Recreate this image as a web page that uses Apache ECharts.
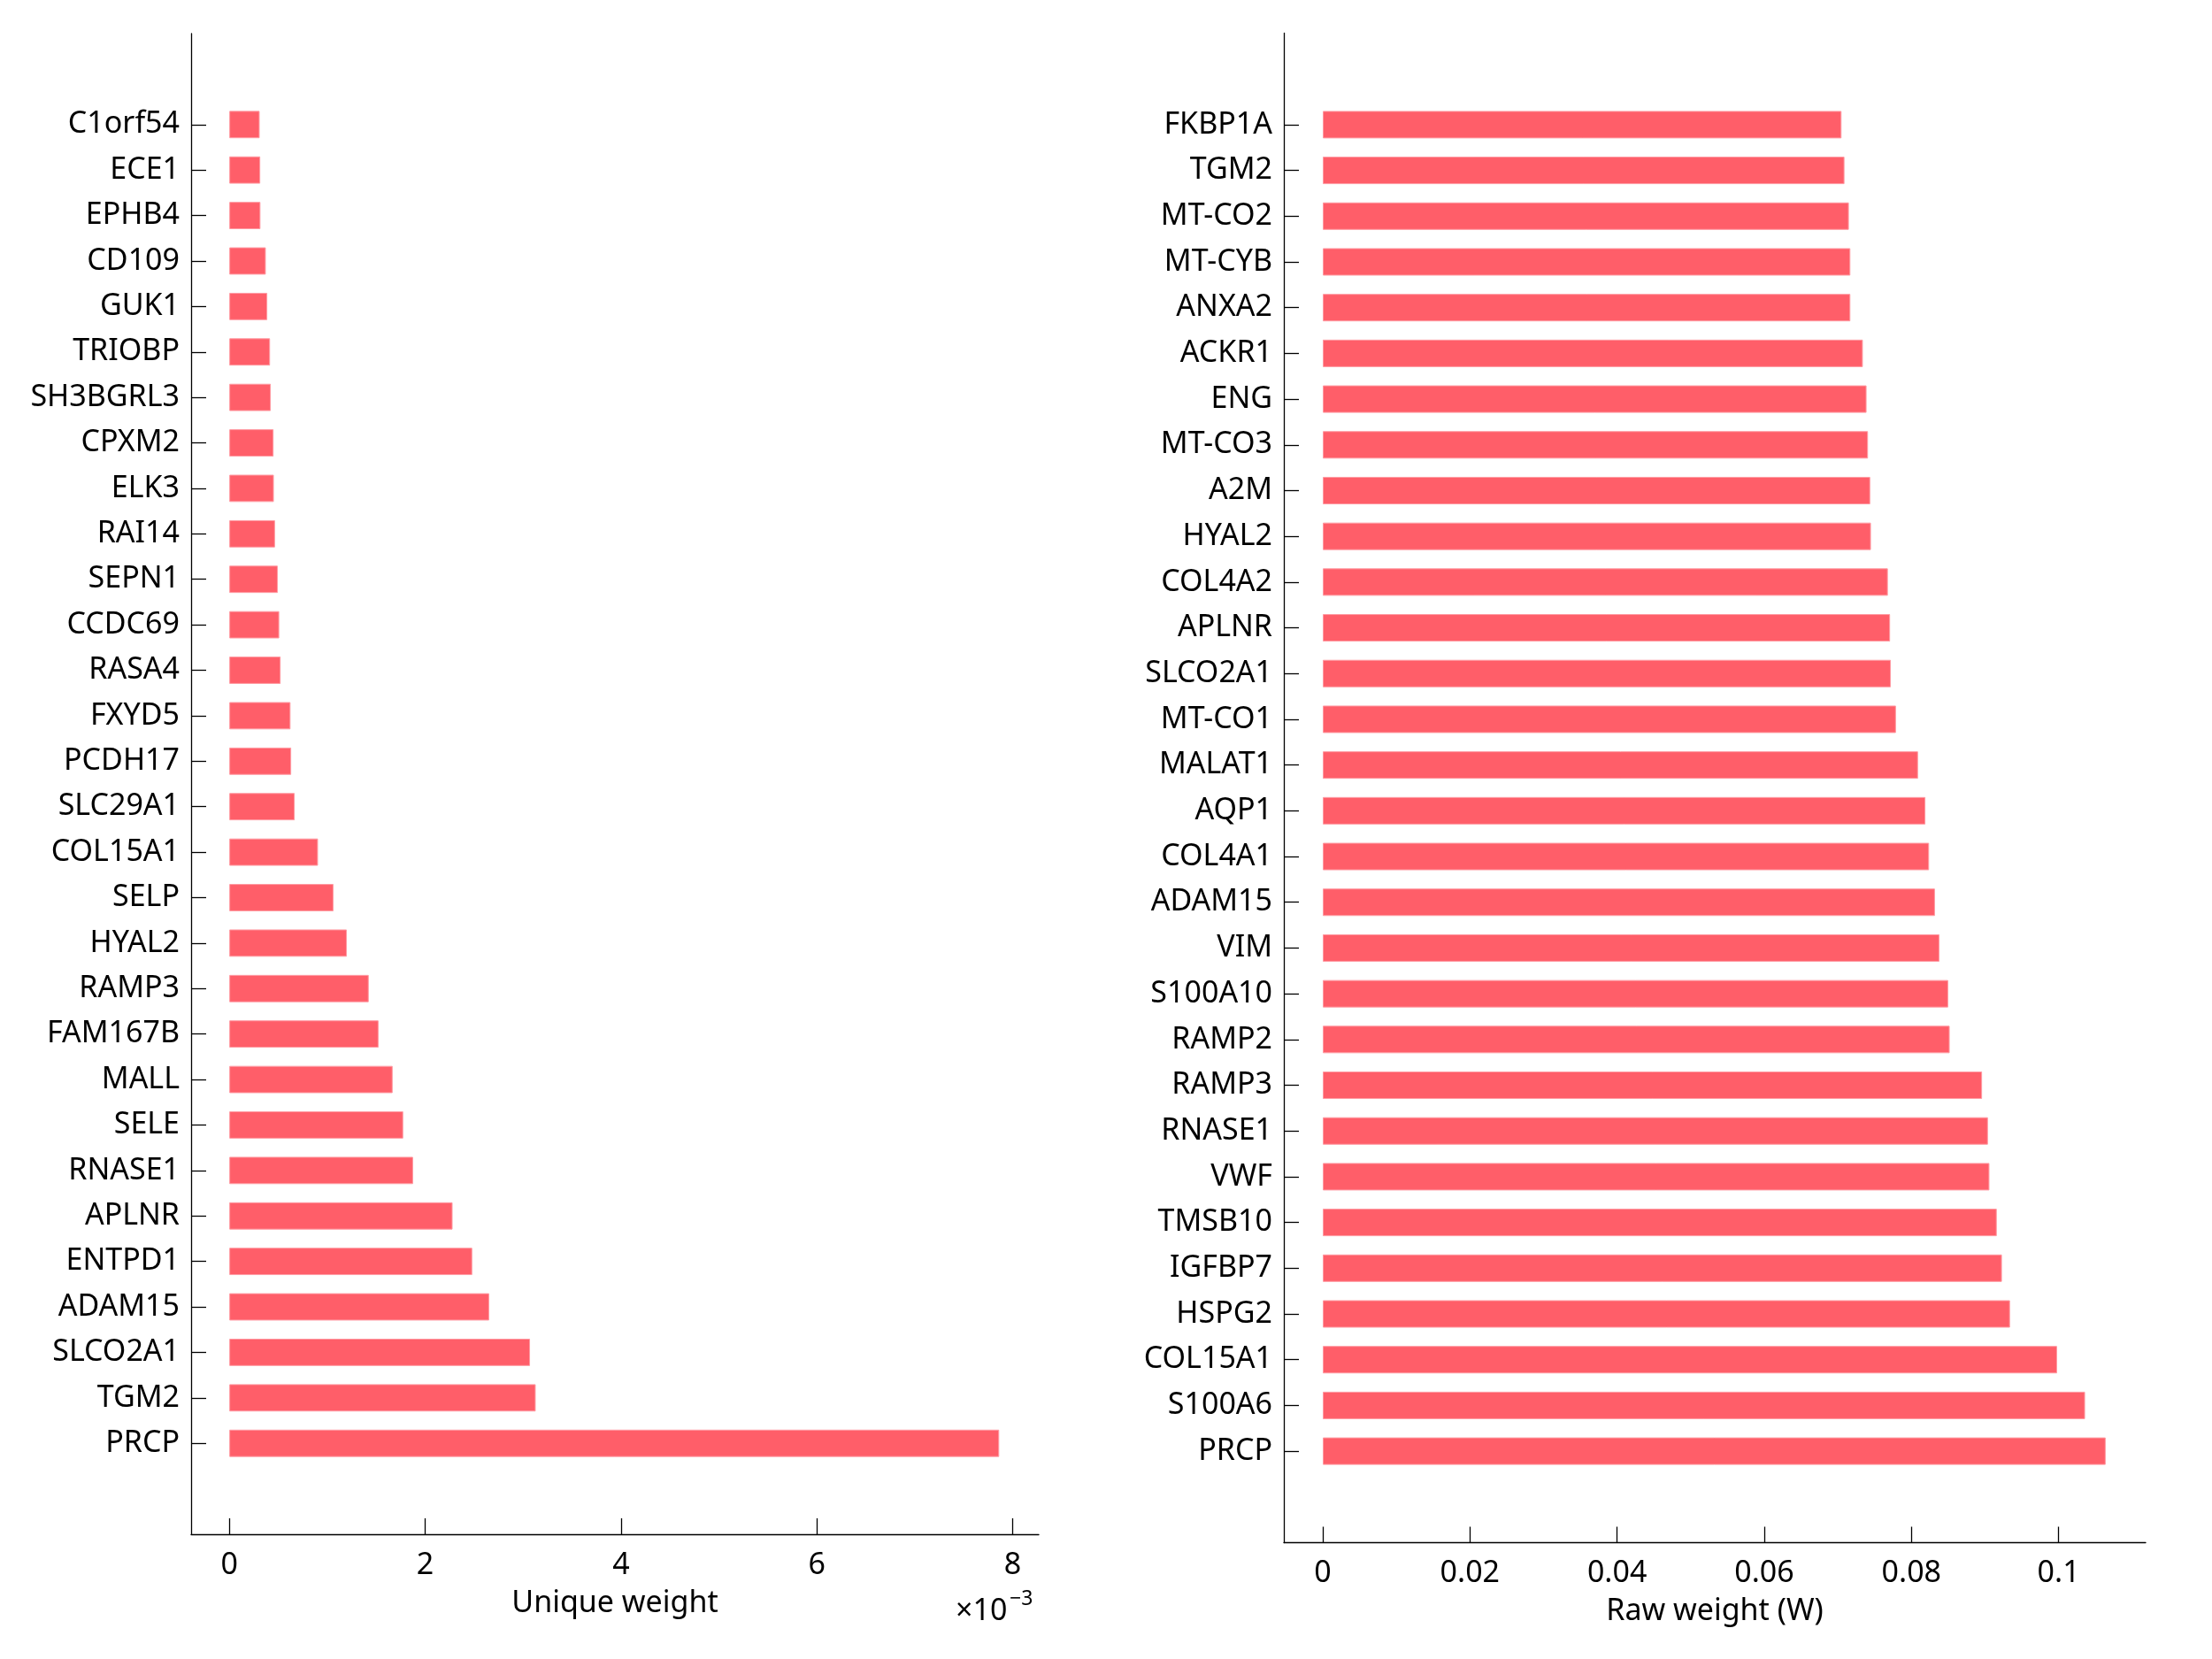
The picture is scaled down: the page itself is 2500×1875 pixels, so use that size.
<!DOCTYPE html>
<html>
<head>
<meta charset="utf-8">
<script src="https://cdn.jsdelivr.net/npm/echarts@6/dist/echarts.min.js"></script>
<style>
html,body{margin:0;padding:0;background:#fff;}
#c{width:2500px;height:1875px;}
</style>
</head>
<body>
<div id="c"></div>
<script>
// Left panel: genes listed top to bottom, unique weight
const leftGenes = ['C1orf54','ECE1','EPHB4','CD109','GUK1','TRIOBP','SH3BGRL3','CPXM2','ELK3','RAI14','SEPN1','CCDC69','RASA4','FXYD5','PCDH17','SLC29A1','COL15A1','SELP','HYAL2','RAMP3','FAM167B','MALL','SELE','RNASE1','APLNR','ENTPD1','ADAM15','SLCO2A1','TGM2','PRCP'];
const leftValues = [0.000310,0.000316,0.000318,0.000373,0.000388,0.000416,0.000424,0.000452,0.000455,0.000467,0.000495,0.000510,0.000524,0.000625,0.000632,0.000668,0.000906,0.001064,0.001200,0.001424,0.001524,0.001668,0.001776,0.001877,0.002280,0.002481,0.002654,0.003071,0.003129,0.007862];
const leftTicks = [0, 0.002, 0.004, 0.006, 0.008];

// Right panel: genes listed top to bottom, raw weight (W)
const rightGenes = ['FKBP1A','TGM2','MT-CO2','MT-CYB','ANXA2','ACKR1','ENG','MT-CO3','A2M','HYAL2','COL4A2','APLNR','SLCO2A1','MT-CO1','MALAT1','AQP1','COL4A1','ADAM15','VIM','S100A10','RAMP2','RAMP3','RNASE1','VWF','TMSB10','IGFBP7','HSPG2','COL15A1','S100A6','PRCP'];
const rightValues = [0.0705,0.0709,0.0715,0.0717,0.0717,0.0734,0.0739,0.0741,0.0744,0.0745,0.0768,0.0771,0.0772,0.0779,0.0809,0.0819,0.0824,0.0832,0.0838,0.0850,0.0852,0.0896,0.0904,0.0906,0.0916,0.0923,0.0934,0.0998,0.1036,0.1064];
const rightTicks = [0, 0.02, 0.04, 0.06, 0.08, 0.1];

const FONT = 'Noto Sans';
const BAR = '#ff5e69';
const PAD = ['__p0','__p1'];
const PADTOP = ['__p2','__p3'];

function buildCats(genes){ return PAD.concat(genes.slice().reverse(), PADTOP); }
function buildData(vals){ return [null,null].concat(vals.slice().reverse(), [null,null]); }
function isReal(v){ return typeof v === 'string' && v.indexOf('__p') !== 0; }

function yAxisDef(gi, genes){
  return {
    type:'category', gridIndex:gi, data:buildCats(genes), boundaryGap:false,
    axisLine:{show:true, onZero:false, lineStyle:{color:'#000', width:1.3}},
    axisTick:{show:true, inside:true, length:17, lineStyle:{color:'#000', width:1.3},
      interval:function(i,v){ return isReal(v); }},
    axisLabel:{show:true, margin:13, color:'#000', fontFamily:FONT, fontSize:34,
      interval:function(i,v){ return isReal(v); },
      formatter:function(v){ return isReal(v) ? v : ''; }},
    splitLine:{show:false}
  };
}
function xAxisDef(gi, min, max, ticks, name, fmt){
  return {
    type:'value', gridIndex:gi, min:min, max:max,
    name:name, nameLocation:'middle', nameGap:61,
    nameTextStyle:{color:'#000', fontFamily:FONT, fontSize:34},
    axisLine:{show:true, onZero:false, lineStyle:{color:'#000', width:1.3}},
    axisTick:{show:true, inside:true, length:18, customValues:ticks, lineStyle:{color:'#000', width:1.3}},
    axisLabel:{show:true, margin:18, color:'#000', fontFamily:FONT, fontSize:34, customValues:ticks, formatter:fmt},
    splitLine:{show:false}
  };
}

const chart = echarts.init(document.getElementById('c'), null, {renderer:'canvas'});
chart.setOption({
  backgroundColor:'#fff',
  animation:false,
  grid:[
    {left:216, top:38, width:958, height:1696},
    {left:1451, top:37.5, width:974, height:1706}
  ],
  xAxis:[
    xAxisDef(0, -0.00039, 0.008266, leftTicks, 'Unique weight', function(v){ return String(Math.round(v*1000)); }),
    xAxisDef(1, -0.00529, 0.11183, rightTicks, 'Raw weight (W)', function(v){ return String(+v.toFixed(2)); })
  ],
  yAxis:[ yAxisDef(0, leftGenes), yAxisDef(1, rightGenes) ],
  series:[
    {type:'bar', xAxisIndex:0, yAxisIndex:0, data:buildData(leftValues), barWidth:'60%',
     itemStyle:{color:BAR, borderColor:'#ff9aa2', borderWidth:1}},
    {type:'bar', xAxisIndex:1, yAxisIndex:1, data:buildData(rightValues), barWidth:'60%',
     itemStyle:{color:BAR, borderColor:'#ff9aa2', borderWidth:1}}
  ],
  graphic:[
    {type:'text', style:{x:1080, y:1821, text:'×10', fontFamily:FONT, fontSize:34, fill:'#000', verticalAlign:'middle', align:'left'}},
    {type:'text', style:{x:1141, y:1807, text:'−3', fontFamily:FONT, fontSize:23, fill:'#000', verticalAlign:'middle', align:'left'}}
  ]
});
</script>
</body>
</html>
